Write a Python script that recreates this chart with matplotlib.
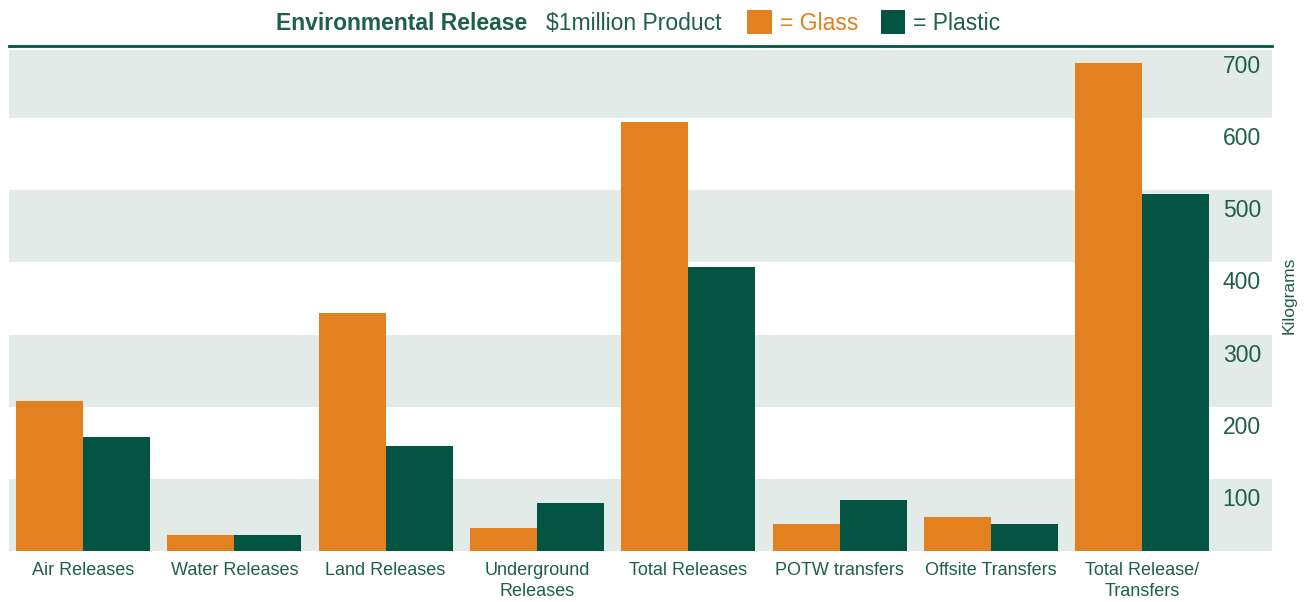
import matplotlib
matplotlib.use("Agg")
import matplotlib.pyplot as plt
import matplotlib.transforms as mtransforms
import numpy as np

categories = ["Air Releases", "Water Releases", "Land Releases", "Underground\nReleases",
              "Total Releases", "POTW transfers", "Offsite Transfers", "Total Release/\nTransfers"]
glass = [208, 22, 330, 32, 595, 37, 47, 676]
plastic = [158, 22, 146, 66, 394, 71, 37, 495]
ytick_values = [100, 200, 300, 400, 500, 600, 700]
ytick_labels = ["100", "200", "300", "400", "500", "600", "700"]

ORANGE = "#E3801F"
GREEN = "#035443"
TEXT_GREEN = "#1E5E4C"
BAND = "#E3EBE9"

W, H = 1307, 602
fig = plt.figure(figsize=(W / 100, H / 100), dpi=100)
ax = fig.add_axes([9 / W, 1 - 551 / H, (1272 - 9) / W, (551 - 46) / H])

ymax = 694
for lo in range(0, 800, 200):
    ax.axhspan(lo, min(lo + 100, ymax), color=BAND, lw=0, zorder=0)

x = np.arange(len(categories))
bw = 0.443
ax.bar(x - bw / 2, glass, bw, color=ORANGE, zorder=2, linewidth=0)
ax.bar(x + bw / 2, plastic, bw, color=GREEN, zorder=2, linewidth=0)

ax.set_xlim(-0.489, 7.858)
ax.set_ylim(0, ymax)

for s in ["left", "right", "bottom"]:
    ax.spines[s].set_visible(False)
ax.spines["top"].set_color(GREEN)
ax.spines["top"].set_linewidth(2)

ax.set_xticks(x)
ax.set_xticklabels(categories, family="Liberation Sans",
                   fontsize=13, color=TEXT_GREEN, linespacing=1.3)
ax.tick_params(axis="x", length=0, pad=8)

ax.yaxis.tick_right()
ax.set_yticks(ytick_values)
ax.set_yticklabels(ytick_labels, family="Liberation Sans", fontsize=16.5, color=TEXT_GREEN)
ax.tick_params(axis="y", length=0, pad=-8)
off = mtransforms.ScaledTranslation(0, -18 / 100, fig.dpi_scale_trans)
for lab in ax.get_yticklabels():
    lab.set_horizontalalignment("right")
    lab.set_transform(lab.get_transform() + off)

fig.text(1289 / W, 1 - 295 / H, "Kilograms", rotation=90, ha="center", va="center",
         family="Liberation Sans", fontsize=12.5, color=TEXT_GREEN)

# title line
ty = 1 - 23 / H
fig.text(276 / W, ty, "Environmental Release", family="Liberation Sans", weight="bold",
         fontsize=16.5, color=TEXT_GREEN, ha="left", va="center")
fig.text(546 / W, ty, "$1million Product", family="Liberation Sans",
         fontsize=16.5, color=TEXT_GREEN, ha="left", va="center")
fig.patches.append(plt.Rectangle((747 / W, 1 - 34 / H), 25 / W, 24 / H,
                                 transform=fig.transFigure, color=ORANGE, lw=0))
fig.text(780 / W, ty, "= Glass", family="Liberation Sans",
         fontsize=16.5, color=ORANGE, ha="left", va="center")
fig.patches.append(plt.Rectangle((881 / W, 1 - 34 / H), 24 / W, 24 / H,
                                 transform=fig.transFigure, color=GREEN, lw=0))
fig.text(913 / W, ty, "= Plastic", family="Liberation Sans",
         fontsize=16.5, color=TEXT_GREEN, ha="left", va="center")

fig.savefig("out.png", dpi=100)
